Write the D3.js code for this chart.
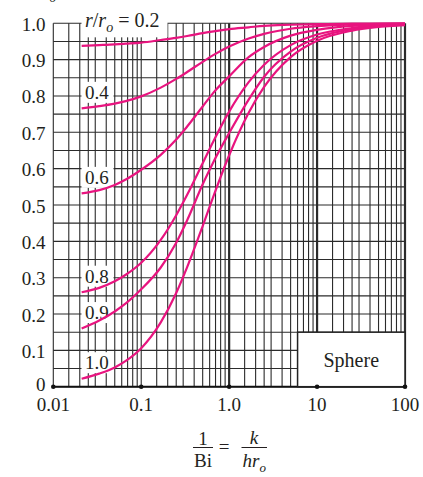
<!DOCTYPE html>
<html lang="en">
<head>
<meta charset="UTF-8">
<title>Sphere - position correction chart</title>
<script src="https://d3js.org/d3.v7.min.js"></script>
<style>
  body { margin: 0; background: #fff; }
  svg text { font-family: "Liberation Serif", "Times New Roman", serif; fill: #231f20; }
</style>
</head>
<body>
<div id="chart"></div>
<script>
const invBi = [0.021, 0.0333, 0.05, 0.0667, 0.1, 0.1667, 0.25, 0.333, 0.5, 0.667, 1.0, 1.667, 2.5, 5, 10, 25, 100];

// theta/theta_o for each r/r_o
const r02 = [0.938, 0.940, 0.942, 0.944, 0.947, 0.954, 0.960, 0.965, 0.973, 0.978, 0.984, 0.989, 0.993, 0.996, 0.998, 0.999, 1.0];
const r04 = [0.766, 0.772, 0.779, 0.786, 0.799, 0.823, 0.847, 0.866, 0.894, 0.913, 0.936, 0.958, 0.971, 0.985, 0.992, 0.997, 0.999];
const r06 = [0.532, 0.541, 0.555, 0.570, 0.597, 0.638, 0.680, 0.716, 0.771, 0.810, 0.854, 0.907, 0.935, 0.966, 0.982, 0.993, 0.998];
const r08 = [0.260, 0.272, 0.290, 0.308, 0.341, 0.404, 0.472, 0.528, 0.615, 0.677, 0.757, 0.838, 0.886, 0.940, 0.969, 0.987, 0.997];
const r09 = [0.160, 0.182, 0.207, 0.229, 0.268, 0.328, 0.396, 0.458, 0.557, 0.620, 0.698, 0.790, 0.853, 0.922, 0.960, 0.984, 0.996];
const r10 = [0.022, 0.036, 0.053, 0.071, 0.106, 0.177, 0.258, 0.329, 0.442, 0.526, 0.637, 0.754, 0.825, 0.907, 0.952, 0.980, 0.995];

const seriesNames = ["0.2", "0.4", "0.6", "0.8", "0.9", "1.0"];
const seriesValues = [r02, r04, r06, r08, r09, r10];

const xTicks = [0.01, 0.1, 1, 10, 100];
const xTickLabels = ["0.01", "0.1", "1.0", "10", "100"];
const yTicks = [0, 0.1, 0.2, 0.3, 0.4, 0.5, 0.6, 0.7, 0.8, 0.9, 1.0];
const yTickLabels = ["0", "0.1", "0.2", "0.3", "0.4", "0.5", "0.6", "0.7", "0.8", "0.9", "1.0"];
const decadeSteps = [1, 1.5, 2, 2.5, 3, 4, 5, 6, 7, 8, 9];
const boxLabel = "Sphere";

const width = 423, height = 477;
const pink = "#e8147f";

const svg = d3.select("#chart").append("svg")
    .attr("width", width)
    .attr("height", height);

const x = d3.scaleLog().domain([0.01, 100]).range([53.3, 405]);
const y = d3.scaleLinear().domain([0, 1]).range([386.7, 23.3]);

// grid lines
const xGrid = [];
[0.01, 0.1, 1, 10].forEach(d => decadeSteps.forEach(s => xGrid.push(d * s)));
xGrid.push(100);
const yGrid = d3.range(0, 1.0001, 0.05);

const grid = svg.append("g");
grid.selectAll(".hg").data(yGrid).enter().append("line")
    .attr("x1", x(0.01)).attr("x2", x(100))
    .attr("y1", d => y(d)).attr("y2", d => y(d))
    .attr("stroke", "#2b2b2b").attr("stroke-width", 1.1);
grid.selectAll(".vg").data(xGrid).enter().append("line")
    .attr("x1", d => x(d)).attr("x2", d => x(d))
    .attr("y1", y(0)).attr("y2", y(1))
    .attr("stroke", "#2b2b2b")
    .attr("stroke-width", d => (d === 1 || d === 10 || d === 100) ? 2.2 : 1.1);

// bottom axis line
svg.append("line")
    .attr("x1", x(0.01)).attr("x2", x(100))
    .attr("y1", y(0)).attr("y2", y(0))
    .attr("stroke", "#111").attr("stroke-width", 2);

// "Sphere" box
svg.append("rect")
    .attr("x", x(6)).attr("y", y(0.15))
    .attr("width", x(100) - x(6)).attr("height", y(0) - y(0.15))
    .attr("fill", "#fff").attr("stroke", "#222").attr("stroke-width", 1.5);
svg.append("text")
    .attr("x", (x(6) + x(100)) / 2).attr("y", y(0.055))
    .attr("text-anchor", "middle").attr("font-size", 20)
    .text(boxLabel);

// curve labels with white boxes
const labels = svg.append("g");
seriesNames.forEach((name, i) => {
    const first = i === 0;
    const base = first ? y(seriesValues[i][0]) - 18.5 : y(seriesValues[i][0]) - 9.5;
    const w = first ? 86 : 32;
    labels.append("rect")
        .attr("x", 81.5).attr("y", base - 17)
        .attr("width", w).attr("height", first ? 27 : 21)
        .attr("fill", "#fff");
    const t = labels.append("text")
        .attr("x", 85).attr("y", base)
        .attr("font-size", first ? 20 : 19);
    if (first) {
        t.append("tspan").attr("font-style", "italic").text("r");
        t.append("tspan").text("/");
        t.append("tspan").attr("font-style", "italic").text("r");
        t.append("tspan").attr("font-style", "italic").attr("font-size", 14).attr("dy", 5).text("o");
        t.append("tspan").attr("dy", -5).text(" = " + name);
    } else {
        t.text(name);
    }
});

// curves
const line = d3.line()
    .x((d, i) => x(invBi[i]))
    .y(d => y(d))
    .curve(d3.curveMonotoneX);

svg.append("g").selectAll("path")
    .data(seriesValues).enter().append("path")
    .attr("d", d => line(d))
    .attr("fill", "none")
    .attr("stroke", pink)
    .attr("stroke-width", 2.2);

// tick dots on x axis
svg.selectAll(".dot").data(xTicks).enter().append("circle")
    .attr("cx", d => x(d)).attr("cy", y(0)).attr("r", 2.3)
    .attr("fill", "#111");

// tick labels
svg.selectAll(".xl").data(xTicks).enter().append("text")
    .attr("x", d => x(d)).attr("y", 411)
    .attr("text-anchor", "middle").attr("font-size", 19)
    .text((d, i) => xTickLabels[i]);

svg.selectAll(".yl").data(yTicks).enter().append("text")
    .attr("x", 45.5).attr("y", d => y(d) + (d === 0 ? 4 : 7.5))
    .attr("text-anchor", "end").attr("font-size", 19)
    .text((d, i) => yTickLabels[i]);

// y title (mostly above the page edge)
const yt = svg.append("text")
    .attr("x", 56).attr("y", -7).attr("font-size", 19)
    .attr("text-anchor", "end");
yt.append("tspan").attr("font-style", "italic").text("θ/θ");
yt.append("tspan").attr("font-style", "italic").attr("font-size", 13).attr("dy", 9).text("o");

// x title: 1/Bi = k/(h r_o)
const xt = svg.append("g").attr("font-size", 19);
xt.append("text").attr("x", 203).attr("y", 445).attr("text-anchor", "middle").text("1");
xt.append("line").attr("x1", 193).attr("x2", 213).attr("y1", 447.5).attr("y2", 447.5)
    .attr("stroke", "#231f20").attr("stroke-width", 1);
xt.append("text").attr("x", 203).attr("y", 467).attr("text-anchor", "middle").text("Bi");
xt.append("text").attr("x", 224).attr("y", 453).attr("text-anchor", "middle").text("=");
xt.append("text").attr("x", 254).attr("y", 444).attr("text-anchor", "middle")
    .attr("font-style", "italic").text("k");
xt.append("line").attr("x1", 241.5).attr("x2", 267).attr("y1", 447.5).attr("y2", 447.5)
    .attr("stroke", "#231f20").attr("stroke-width", 1);
const hr = xt.append("text").attr("x", 242.5).attr("y", 467).attr("font-style", "italic");
hr.append("tspan").text("hr");
hr.append("tspan").attr("font-size", 13).attr("dy", 5).text("o");
</script>
</body>
</html>
